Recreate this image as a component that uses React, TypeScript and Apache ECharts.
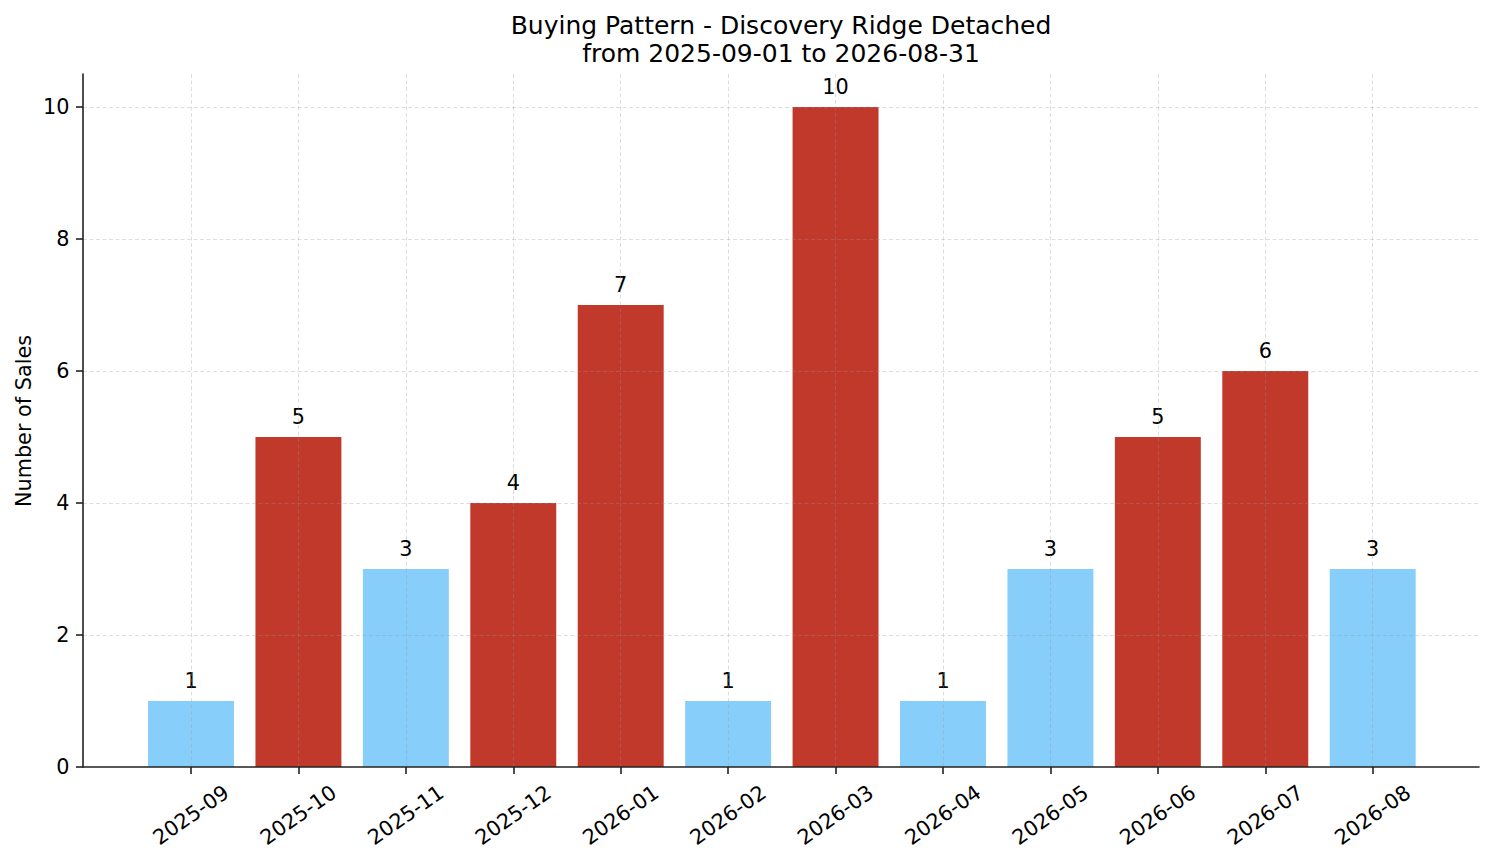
import React, { useEffect, useRef } from "react";
import * as echarts from "echarts";

const categories = [
  "2025-09", "2025-10", "2025-11", "2025-12", "2026-01", "2026-02",
  "2026-03", "2026-04", "2026-05", "2026-06", "2026-07", "2026-08",
];
const sales = [1, 5, 3, 4, 7, 1, 10, 1, 3, 5, 6, 3];
const titleLines = ["Buying Pattern - Discovery Ridge Detached", "from 2025-09-01 to 2026-08-31"];
const yAxisName = "Number of Sales";

const FONT = "'DejaVu Sans', Verdana, sans-serif";
const RED = "#C0392B";
const BLUE = "#87CEFA";
const GRID_LINE = { color: "rgba(150,150,150,0.4)", width: 0.8, type: [4, 2.5] as any };
const AXIS_COLOR = "#222";

function median(arr: number[]) {
  const s = [...arr].sort((a, b) => a - b);
  const m = Math.floor(s.length / 2);
  return s.length % 2 ? s[m] : (s[m - 1] + s[m]) / 2;
}

export default function App() {
  const ref = useRef<HTMLDivElement>(null);
  useEffect(() => {
    const chart = echarts.init(ref.current!, null, { renderer: "svg" });
    const med = median(sales);
    const option: any = {
      animation: false,
      backgroundColor: "#fff",
      textStyle: { fontFamily: FONT },
      grid: [
        { left: 83, right: 15, top: 74, bottom: 96 },
        { left: 191, right: 121.3, top: 74, bottom: 96 },
      ],
      xAxis: [
        {
          gridIndex: 0, type: "value", min: 0, max: 1, z: 3,
          axisLine: { show: true, lineStyle: { color: AXIS_COLOR, width: 1.6 } },
          axisTick: { show: false }, axisLabel: { show: false }, splitLine: { show: false },
        },
        {
          gridIndex: 1, type: "category", data: categories, boundaryGap: false, z: 3,
          axisLine: { show: false },
          axisTick: { show: true, length: 7, lineStyle: { color: AXIS_COLOR, width: 1.6 } },
          axisLabel: {
            rotate: 35, align: "center", verticalAlign: "middle", margin: 48,
            fontSize: 20.8, color: "#000", fontFamily: FONT, interval: 0,
          },
          splitLine: { show: true, interval: 0, lineStyle: GRID_LINE },
        },
      ],
      yAxis: [
        {
          gridIndex: 0, type: "value", min: 0, max: 10.5, interval: 2, z: 3,
          axisLine: { show: true, lineStyle: { color: AXIS_COLOR, width: 1.6 } },
          axisTick: { show: true, length: 7, lineStyle: { color: AXIS_COLOR, width: 1.6 } },
          axisLabel: { fontSize: 20.8, color: "#000", margin: 13.5, fontFamily: FONT, showMaxLabel: false },
          splitLine: { show: true, showMaxLine: false, showMinLine: false, lineStyle: GRID_LINE },
        },
        {
          gridIndex: 1, type: "value", min: 0, max: 10.5, show: false,
          splitLine: { show: false },
        },
      ],
      series: [
        {
          type: "bar",
          xAxisIndex: 1,
          yAxisIndex: 1,
          clip: false,
          barWidth: "80%",
          z: 2,
          data: sales.map((v) => ({
            value: v,
            itemStyle: { color: v > med ? RED : BLUE },
          })),
          label: {
            show: true, position: "top", distance: 10,
            fontSize: 20.8, color: "#000", fontFamily: FONT,
          },
        },
      ],
      graphic: [
        {
          type: "text", x: 781, y: 25,
          style: { text: titleLines[0], font: `25px ${FONT}`, fill: "#000", align: "center", verticalAlign: "middle" },
        },
        {
          type: "text", x: 781, y: 53.5,
          style: { text: titleLines[1], font: `25px ${FONT}`, fill: "#000", align: "center", verticalAlign: "middle" },
        },
        {
          type: "text", x: 24, y: 421, rotation: Math.PI / 2,
          style: { text: yAxisName, font: `20.8px ${FONT}`, fill: "#000", align: "center", verticalAlign: "middle" },
        },
      ],
    };
    chart.setOption(option);
    return () => chart.dispose();
  }, []);
  return (
    <div
      ref={ref}
      style={{ position: "absolute", left: 0, top: 0, width: 1494, height: 863 }}
    />
  );
}
